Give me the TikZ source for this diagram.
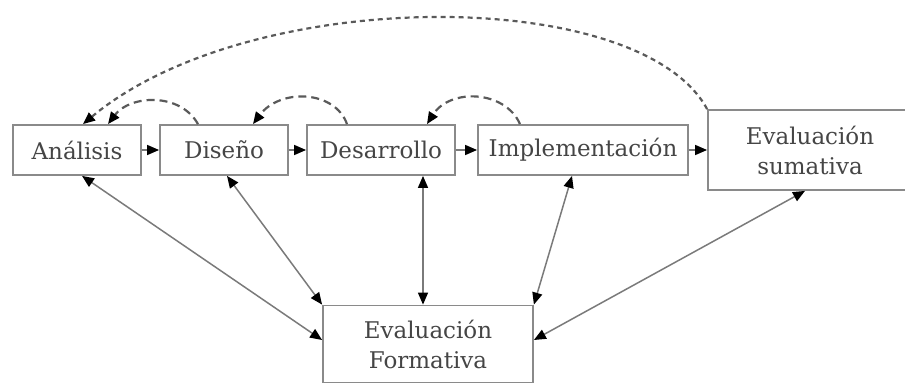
\documentclass[tikz,border=0pt]{standalone}
\usepackage{fontspec}
\setmainfont{DejaVu Serif}
\usetikzlibrary{arrows.meta,calc}
\definecolor{boxline}{HTML}{8A8A8A}
\definecolor{linkline}{HTML}{7A7A7A}
\definecolor{dashline}{HTML}{5A5A5A}
\definecolor{labeltext}{HTML}{454545}
\begin{document}
\begin{tikzpicture}[x=1pt,y=-1pt,
  phase/.style={draw=boxline,line width=1.8pt,rectangle,inner sep=0pt,
    text=labeltext,align=center,font=\fontsize{23}{30}\selectfont},
  flow/.style={draw=linkline,line width=1.5pt,-{Triangle[length=12pt,width=10pt,color=black]}},
  link/.style={draw=linkline,line width=1.5pt,
    {Triangle[length=12pt,width=10pt,color=black]}-{Triangle[length=12pt,width=10pt,color=black]}},
  back/.style={draw=dashline,line width=2.2pt,dash pattern=on 8pt off 5pt,
    -{Triangle[length=12pt,width=10pt,color=black]}},
  longback/.style={draw=dashline,line width=2.2pt,dash pattern=on 5pt off 4pt,
    -{Triangle[length=12pt,width=10pt,color=black]}}]
\useasboundingbox (0,0) rectangle (905,383);

% phases of the process
\node[phase,minimum width=128pt,minimum height=50pt] (A) at (77,150) {Análisis};
\node[phase,minimum width=128pt,minimum height=50pt] (D) at (224,150) {Diseño};
\node[phase,minimum width=148pt,minimum height=50pt] (R) at (381,150) {Desarrollo};
\node[phase,minimum width=210pt,minimum height=50pt] (I) at (583,150) {Implementación};
\node[phase,minimum width=204pt,minimum height=80pt] (S) at (810,150) {Evaluación\\sumativa};
\node[phase,minimum width=210pt,minimum height=77pt] (F) at (428,344) {Evaluación\\Formativa};

% forward flow
\draw[flow] (A.east) -- (D.west);
\draw[flow] (D.east) -- (R.west);
\draw[flow] (R.east) -- (I.west);
\draw[flow] (I.east) -- (S.west);

% links with the formative evaluation
\draw[link] ([xshift=5pt]A.south) -- ([yshift=4pt]F.west);
\draw[link] ([xshift=3pt]D.south) -- (F.north west);
\draw[link] ([xshift=-5pt]F.north |- R.south) -- ([xshift=-5pt]F.north);
\draw[link] ([xshift=-11pt]I.south) -- (F.north east);
\draw[link] ([xshift=-5pt]S.south) -- ([yshift=4pt]F.east);

% feedback loops
\draw[back] ([xshift=-26pt]D.north) .. controls (180,92) and (130,95) .. ([xshift=31pt]A.north);
\draw[back] ([xshift=-34pt]R.north) .. controls (335,90) and (280,88) .. ([xshift=29pt]D.north);
\draw[back] ([xshift=-63pt]I.north) .. controls (505,90) and (450,88) .. ([xshift=46pt]R.north);
\draw[longback] (S.north west) .. controls (640,-15) and (250,-15) .. ([xshift=6pt]A.north);
\end{tikzpicture}
\end{document}
